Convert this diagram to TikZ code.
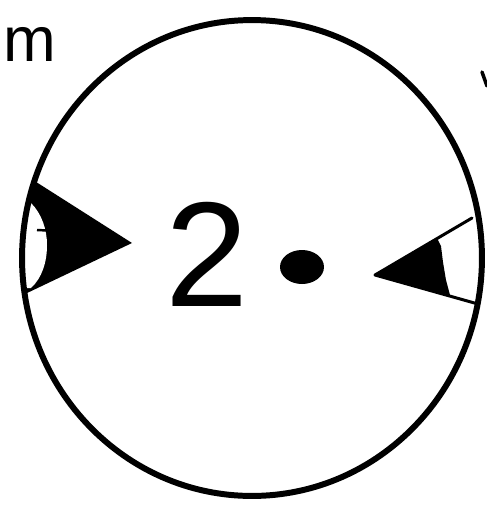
\documentclass[tikz,border=0pt]{standalone}
\usepackage{fontspec}
\setmainfont{Liberation Sans}
\usetikzlibrary{shapes.geometric}
\begin{document}
\begin{tikzpicture}[x=0.02cm,y=-0.02cm,
  inkline/.style={line width=3.2pt, line cap=round, line join=round},
  thinink/.style={line width=1.7pt, line cap=round, line join=round}]
\useasboundingbox (0,0) rectangle (487,515);
\clip (0,0) rectangle (487,515);
% left wedge (filled, clipped to the disc)
\begin{scope}
  \clip (252,258) ellipse [x radius=4.6cm, y radius=4.76cm];
  \fill (33,180) -- (132,243) -- (25,294) -- (0,294) -- (0,180) -- cycle;
\end{scope}
\fill[white] (31,203) .. controls (42,214) and (47,230) .. (47,245)
  .. controls (47,262) and (42,278) .. (31,288) -- (15,288) -- (15,203) -- cycle;
\draw[line width=1.4pt] (37,230) -- (58,231);
% right wedge
\fill (375,275) -- (437,238) -- (441,246) -- (443,262) -- (446,280) -- (450,295) -- cycle;
\draw[thinink] (472,218) -- (375,275) -- (478,304);
% disc
\node[ellipse, draw, line width=3.4pt, minimum width=9.2cm, minimum height=9.52cm, inner sep=0] (disc) at (252,258) {};
% text
\node[anchor=base, inner sep=0] (two) at (207,306) {\fontsize{85}{85}\selectfont 2};
\node[ellipse, fill, minimum width=0.88cm, minimum height=0.68cm, inner sep=0] (dot) at (302,267) {};
\node[anchor=base west, inner sep=0] (m) at (3,61) {\fontsize{36}{36}\selectfont m};
\draw[line width=2pt, line cap=round] (482,72) -- (487,86);
\end{tikzpicture}
\end{document}
